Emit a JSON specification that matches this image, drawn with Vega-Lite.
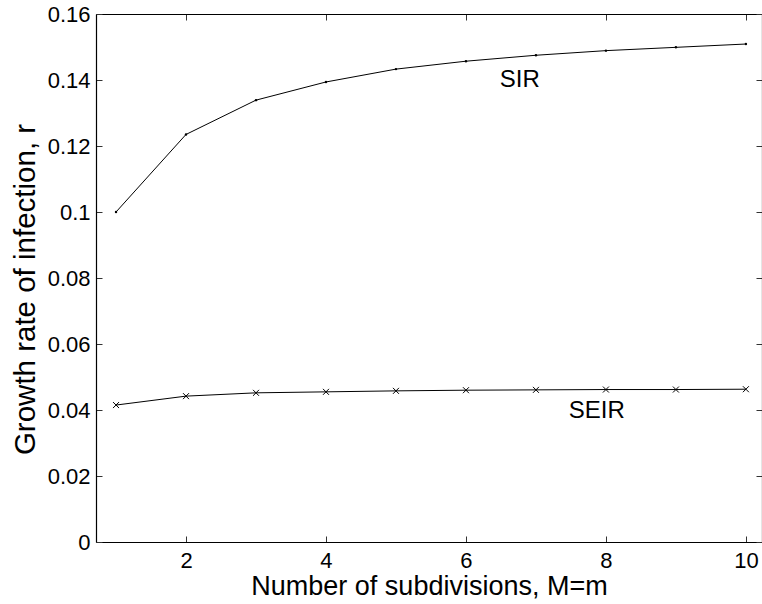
{
  "$schema": "https://vega.github.io/schema/vega-lite/v6.json",
  "autosize": "none",
  "width": 666,
  "height": 528,
  "padding": {"left": 96, "top": 14, "right": 0, "bottom": 62},
  "background": "white",
  "config": {
    "view": {"stroke": null},
    "font": "Liberation Sans",
    "axis": {
      "domainColor": "black",
      "domainWidth": 1.2,
      "tickColor": "#333",
      "tickSize": -6,
      "grid": false,
      "labelColor": "black",
      "labelFontSize": 22,
      "labelFont": "Liberation Sans",
      "titleFont": "Liberation Sans",
      "titleFontSize": 27,
      "titleFontWeight": "normal",
      "titleColor": "black"
    }
  },
  "datasets": {
    "curves": [
      {"M": 1, "r": 0.1, "model": "SIR"},
      {"M": 2, "r": 0.1235, "model": "SIR"},
      {"M": 3, "r": 0.1339, "model": "SIR"},
      {"M": 4, "r": 0.1394, "model": "SIR"},
      {"M": 5, "r": 0.1433, "model": "SIR"},
      {"M": 6, "r": 0.1457, "model": "SIR"},
      {"M": 7, "r": 0.1475, "model": "SIR"},
      {"M": 8, "r": 0.1489, "model": "SIR"},
      {"M": 9, "r": 0.1499, "model": "SIR"},
      {"M": 10, "r": 0.1509, "model": "SIR"},
      {"M": 1, "r": 0.0415, "model": "SEIR"},
      {"M": 2, "r": 0.0442, "model": "SEIR"},
      {"M": 3, "r": 0.0452, "model": "SEIR"},
      {"M": 4, "r": 0.0455, "model": "SEIR"},
      {"M": 5, "r": 0.0458, "model": "SEIR"},
      {"M": 6, "r": 0.046, "model": "SEIR"},
      {"M": 7, "r": 0.0461, "model": "SEIR"},
      {"M": 8, "r": 0.0462, "model": "SEIR"},
      {"M": 9, "r": 0.0462, "model": "SEIR"},
      {"M": 10, "r": 0.0463, "model": "SEIR"}
    ],
    "labels": [
      {"M": 6.77, "r": 0.14, "text": "SIR"},
      {"M": 7.87, "r": 0.0397, "text": "SEIR"}
    ]
  },
  "resolve": {"axis": {"x": "independent", "y": "independent"}},
  "layer": [
    {
      "data": {"name": "curves"},
      "mark": {"type": "line", "color": "black", "strokeWidth": 1, "clip": true},
      "encoding": {
        "x": {
          "field": "M", "type": "quantitative",
          "scale": {"domain": [0.714, 10.23], "nice": false, "zero": false},
          "axis": {"values": [2, 4, 6, 8, 10], "title": "Number of subdivisions, M=m", "labelPadding": 14, "titlePadding": 2}
        },
        "y": {
          "field": "r", "type": "quantitative",
          "scale": {"domain": [0, 0.16], "nice": false},
          "axis": {"values": [0, 0.02, 0.04, 0.06, 0.08, 0.1, 0.12, 0.14, 0.16], "format": "~g", "title": "Growth rate of infection, r", "labelPadding": 12, "titlePadding": 7, "titleFontSize": 29.5, "titleY": 275}
        },
        "detail": {"field": "model"}
      }
    },
    {
      "data": {"name": "curves"},
      "transform": [{"filter": "datum.model === 'SIR'"}],
      "mark": {"type": "point", "shape": "circle", "filled": true, "color": "black", "size": 6, "opacity": 1},
      "encoding": {
        "x": {"field": "M", "type": "quantitative", "axis": {"orient": "top", "values": [2, 4, 6, 8, 10], "labels": false, "title": null}},
        "y": {"field": "r", "type": "quantitative", "axis": {"orient": "right", "values": [0, 0.02, 0.04, 0.06, 0.08, 0.1, 0.12, 0.14, 0.16], "labels": false, "title": null}}
      }
    },
    {
      "data": {"name": "curves"},
      "transform": [{"filter": "datum.model === 'SEIR'"}],
      "mark": {"type": "point", "shape": "M-1,-1L1,1M-1,1L1,-1", "filled": false, "color": "black", "size": 36, "strokeWidth": 1, "opacity": 1},
      "encoding": {
        "x": {"field": "M", "type": "quantitative", "axis": null},
        "y": {"field": "r", "type": "quantitative", "axis": null}
      }
    },
    {
      "data": {"name": "labels"},
      "mark": {"type": "text", "fontSize": 24, "color": "black", "align": "center", "baseline": "middle", "font": "Liberation Sans"},
      "encoding": {
        "x": {"field": "M", "type": "quantitative", "axis": null},
        "y": {"field": "r", "type": "quantitative", "axis": null},
        "text": {"field": "text"}
      }
    }
  ]
}
